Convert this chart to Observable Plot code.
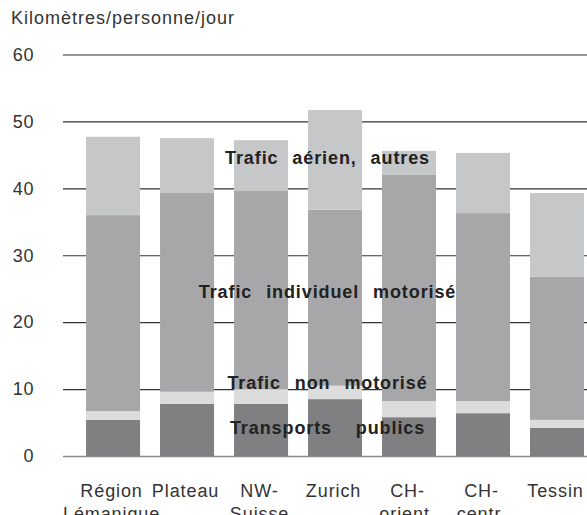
<!DOCTYPE html>
<html>
<head>
<meta charset="utf-8">
<script src="https://cdn.jsdelivr.net/npm/d3@7"></script>
<script src="https://cdn.jsdelivr.net/npm/@observablehq/plot@0.6"></script>
<style>
  html, body { margin: 0; padding: 0; background: #fff; }
  #wrap { width: 587px; height: 515px; position: relative; overflow: hidden; font-family: "Liberation Sans", Arial, sans-serif; }
  #title { height: 36px; line-height: 37px; padding-left: 11px; font-size: 18px; letter-spacing: 1px; color: #333; }
  svg { display: block; }
</style>
</head>
<body>
<div id="wrap">
  <div id="title">Kilomètres/personne/jour</div>
  <div id="chart"></div>
</div>
<script>
const categories = ["Région Lémanique", "Plateau", "NW-Suisse", "Zurich", "CH-orient.", "CH-centr.", "Tessin"];
const categoryLabels = ["Région\nLémanique", "Plateau", "NW-\nSuisse", "Zurich", "CH-\norient.", "CH-\ncentr.", "Tessin"];
const seriesNames = ["Transports publics", "Trafic non motorisé", "Trafic individuel motorisé", "Trafic aérien, autres"];
const transportsPublics = [5.4, 7.8, 7.8, 8.5, 5.8, 6.4, 4.2];
const traficNonMotorise = [1.3, 1.8, 2.2, 2.0, 2.4, 1.8, 1.2];
const traficIndividuelMotorise = [29.3, 29.7, 29.6, 26.3, 33.8, 28.1, 21.4];
const traficAerienAutres = [11.7, 8.2, 7.6, 14.9, 3.6, 9.0, 12.5];
const seriesColors = ["#808083", "#dcdcdd", "#a7a7aa", "#c6c7c9"];
const yTicks = [0, 10, 20, 30, 40, 50, 60];
const annotationTexts = ["Trafic aérien, autres", "Trafic individuel motorisé", "Trafic non motorisé", "Transports\u2002 publics"];
const annotationCategory = ["Zurich", "Zurich", "Zurich", "Zurich"];
const annotationValues = [44.6, 24.6, 11.0, 4.2];

const seriesValues = [transportsPublics, traficNonMotorise, traficIndividuelMotorise, traficAerienAutres];
const rows = [];
categories.forEach((c, i) => {
  seriesNames.forEach((s, j) => rows.push({category: c, series: s, value: seriesValues[j][i]}));
});
const annotations = annotationTexts.map((t, i) => ({text: t, category: annotationCategory[i], value: annotationValues[i]}));
const labelOf = new Map(categories.map((c, i) => [c, categoryLabels[i]]));

const chart = Plot.plot({
  width: 587,
  height: 479,
  marginLeft: 63,
  marginRight: 0,
  marginTop: 18.5,
  marginBottom: 59,
  style: {fontFamily: "Liberation Sans, Arial, sans-serif", letterSpacing: "0.9px", color: "#333", background: "#fff"},
  x: {domain: categories, paddingInner: 0.27, paddingOuter: 0.176, align: 0.885, round: false},
  y: {domain: [0, 60]},
  color: {domain: seriesNames, range: seriesColors},
  marks: [
    Plot.ruleY(yTicks.filter(d => d > 0), {stroke: "#333", strokeWidth: 1.2}),
    Plot.ruleY([0], {stroke: "#8c8c8c", strokeWidth: 1.6}),
    Plot.barY(rows, {x: "category", y: "value", fill: "series"}),
    Plot.axisY(yTicks, {tickSize: 0, tickPadding: 29, fontSize: 18, fill: "#333", label: null}),
    Plot.axisX({tickSize: 0, tickPadding: 24, fontSize: 18, lineHeight: 1.28, fill: "#333", label: null, dx: -2, tickFormat: d => labelOf.get(d)}),
    Plot.text(annotations, {x: "category", y: "value", text: "text", dx: -8, fontSize: 18, fontWeight: "bold", fill: "#222", lineAnchor: "middle"})
  ]
});
chart.style.wordSpacing = "8px";
document.getElementById("chart").appendChild(chart);
</script>
</body>
</html>
